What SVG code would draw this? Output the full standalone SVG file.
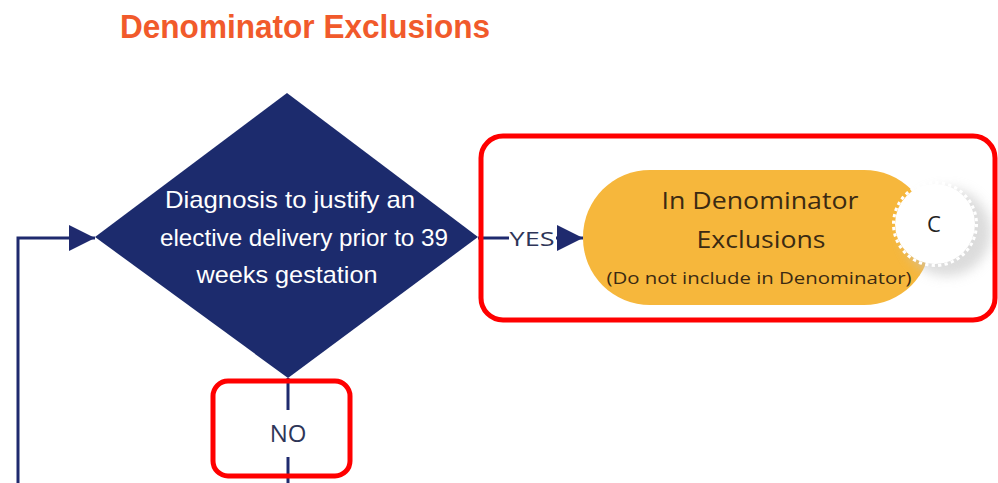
<svg xmlns="http://www.w3.org/2000/svg" width="998" height="483" viewBox="0 0 998 483">
  <defs>
    <marker id="arrow" viewBox="0 0 10 10" refX="10" refY="5" markerWidth="26" markerHeight="26" markerUnits="userSpaceOnUse" orient="auto">
      <path d="M0,0 L10,5 L0,10 Z" fill="#1f2a6e"/>
    </marker>
    <filter id="soft" x="-50%" y="-50%" width="200%" height="200%">
      <feGaussianBlur stdDeviation="6"/>
    </filter>
    <style>
      .title { font-family: "Liberation Sans", Arial, sans-serif; font-weight: bold; font-size: 33px; fill: #f15a2b; }
      .dtext { font-family: "Liberation Sans", Arial, sans-serif; font-size: 24px; fill: #ffffff; text-anchor: middle; }
      .ptext { font-family: "Open Sans", "Noto Sans", sans-serif; font-size: 23px; fill: #3b2a12; text-anchor: middle; }
      .psmall { font-family: "Open Sans", "Noto Sans", sans-serif; font-size: 16px; fill: #3b2a12; text-anchor: middle; }
      .lbl { font-family: "Open Sans", "Noto Sans", sans-serif; font-size: 20px; fill: #2e3558; text-anchor: middle; }
      .lbl.big { font-size: 24px; }
      .wire { stroke: #1f2a6e; stroke-width: 3; fill: none; }
      .hl { fill: none; stroke: #ff0000; stroke-width: 5; }
    </style>
  </defs>

  <rect width="998" height="483" fill="#ffffff"/>

  <text class="title" x="120" y="38" textLength="370" lengthAdjust="spacingAndGlyphs">Denominator Exclusions</text>

  <g id="connectors">
    <!-- loop entering the decision from the left -->
    <path class="wire" d="M18,483 V238 H95" marker-end="url(#arrow)"/>
    <!-- YES branch -->
    <path class="wire" d="M478,238 H509"/>
    <path class="wire" d="M556,238 H583" marker-end="url(#arrow)"/>
    <text class="lbl" x="532" y="246" textLength="45" lengthAdjust="spacingAndGlyphs">YES</text>
    <!-- NO branch -->
    <path class="wire" d="M288,378 V410"/>
    <path class="wire" d="M288,457 V483"/>
    <text class="lbl big" x="288" y="442">NO</text>
  </g>

  <g id="decision">
    <polygon points="287,93 478,237 288,378 95,237" fill="#1c2b6d"/>
    <text class="dtext" x="290" y="208" textLength="250" lengthAdjust="spacingAndGlyphs">Diagnosis to justify an</text>
    <text class="dtext" x="304" y="246" textLength="288" lengthAdjust="spacingAndGlyphs">elective delivery prior to 39</text>
    <text class="dtext" x="287" y="283" textLength="181" lengthAdjust="spacingAndGlyphs">weeks gestation</text>
  </g>

  <g id="exclusion">
    <rect x="583" y="170" width="348" height="135" rx="67" fill="#f6b73c"/>
    <text class="ptext" x="760" y="209" textLength="197" lengthAdjust="spacingAndGlyphs">In Denominator</text>
    <text class="ptext" x="761" y="248" textLength="129" lengthAdjust="spacingAndGlyphs">Exclusions</text>
    <text class="psmall" x="759" y="284" textLength="305" lengthAdjust="spacingAndGlyphs">(Do not include in Denominator)</text>
  </g>

  <g id="connector-c">
    <circle cx="947" cy="232" r="44" fill="#c4c4c4" filter="url(#soft)" opacity="0.6"/>
    <circle cx="935" cy="224" r="40" fill="#ffffff"/>
    <circle cx="935" cy="224" r="41.5" fill="none" stroke="#ffffff" stroke-width="3" stroke-dasharray="3.26 3.26"/>
    <text x="934" y="232" font-family="Open Sans, Noto Sans, sans-serif" font-size="22" fill="#222222" text-anchor="middle">C</text>
  </g>

  <g id="highlights">
    <rect class="hl" x="481" y="136" width="514" height="184" rx="22"/>
    <rect class="hl" x="213" y="381" width="137" height="95" rx="15"/>
  </g>
</svg>
